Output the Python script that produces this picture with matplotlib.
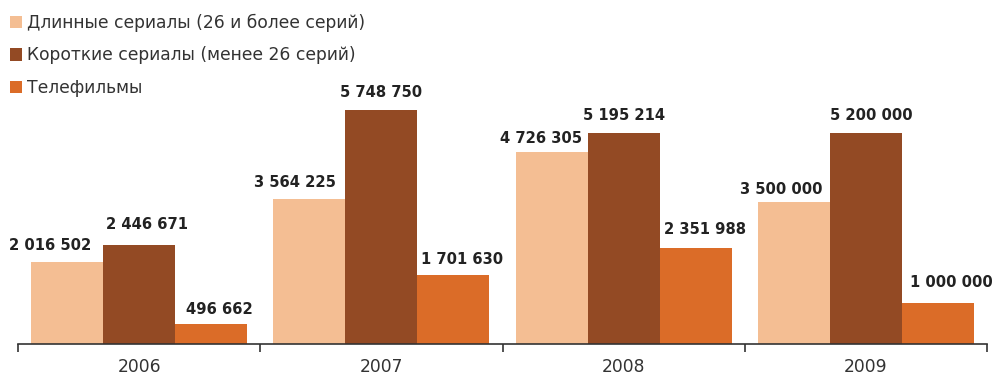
import matplotlib.pyplot as plt
import numpy as np
from matplotlib.patches import Patch

years = ["2006", "2007", "2008", "2009"]
long_series = [2016502, 3564225, 4726305, 3500000]
short_series = [2446671, 5748750, 5195214, 5200000]
tv_films = [496662, 1701630, 2351988, 1000000]

names = ["Длинные сериалы (26 и более серий)",
         "Короткие сериалы (менее 26 серий)",
         "Телефильмы"]
colors = ["#F4BE93", "#934A24", "#DB6C28"]

# hand nudges for the value labels, pixels (dx, gap above bar) per series/year
label_nudge = [
    [(-17, 12), (-14.5, 12), (-10.5, 9), (-12.5, 8)],
    [(7.5, 16), (0, 13), (0.5, 13), (5.5, 13)],
    [(8.5, 10), (8.5, 11), (9.5, 14), (13.5, 16)],
]

plt.rcParams['font.family'] = ['DejaVu Sans']

fig = plt.figure(figsize=(9.94, 3.78), dpi=100)
ax = fig.add_axes([18/994, 34/378, 969/994, 344/378])

x = np.arange(len(years))
w = 0.297
for k, (vals, c) in enumerate(zip([long_series, short_series, tv_films], colors)):
    bars = ax.bar(x + (k - 1) * w, vals, w, color=c, linewidth=0)
    for b, v, (dx, dy) in zip(bars, vals, label_nudge[k]):
        txt = f"{v:,}".replace(",", " ")
        ax.annotate(txt, (b.get_x() + b.get_width() / 2, v), xytext=(dx, dy),
                    textcoords="offset pixels", ha="center", va="baseline",
                    fontsize=10.6, fontweight="bold", color="#222222")

ax.set_xlim(-0.5, 3.5)
ax.set_ylim(0, 8.46e6)
ax.set_yticks([])
for s in ["left", "right", "top"]:
    ax.spines[s].set_visible(False)
ax.spines["bottom"].set_color("#333333")
ax.spines["bottom"].set_linewidth(1.2)

ax.set_xticks(x)
ax.set_xticklabels(years, fontsize=12.3, color="#333333")
ax.tick_params(axis="x", which="major", length=0, pad=10)
ax.set_xticks(np.arange(-0.5, 4, 1), minor=True)
ax.tick_params(axis="x", which="minor", length=6, width=1.2, color="#333333", direction="out")

handles = [Patch(facecolor=c, edgecolor="none") for c in colors]
fig.legend(handles, names, loc="upper left", bbox_to_anchor=(3/994, 1 - 7/378),
           frameon=False, fontsize=12.3, handlelength=0.72, handleheight=0.72,
           handletextpad=0.3, labelspacing=0.84, borderaxespad=0, labelcolor="#333333")

fig.savefig("out.png", dpi=100)
